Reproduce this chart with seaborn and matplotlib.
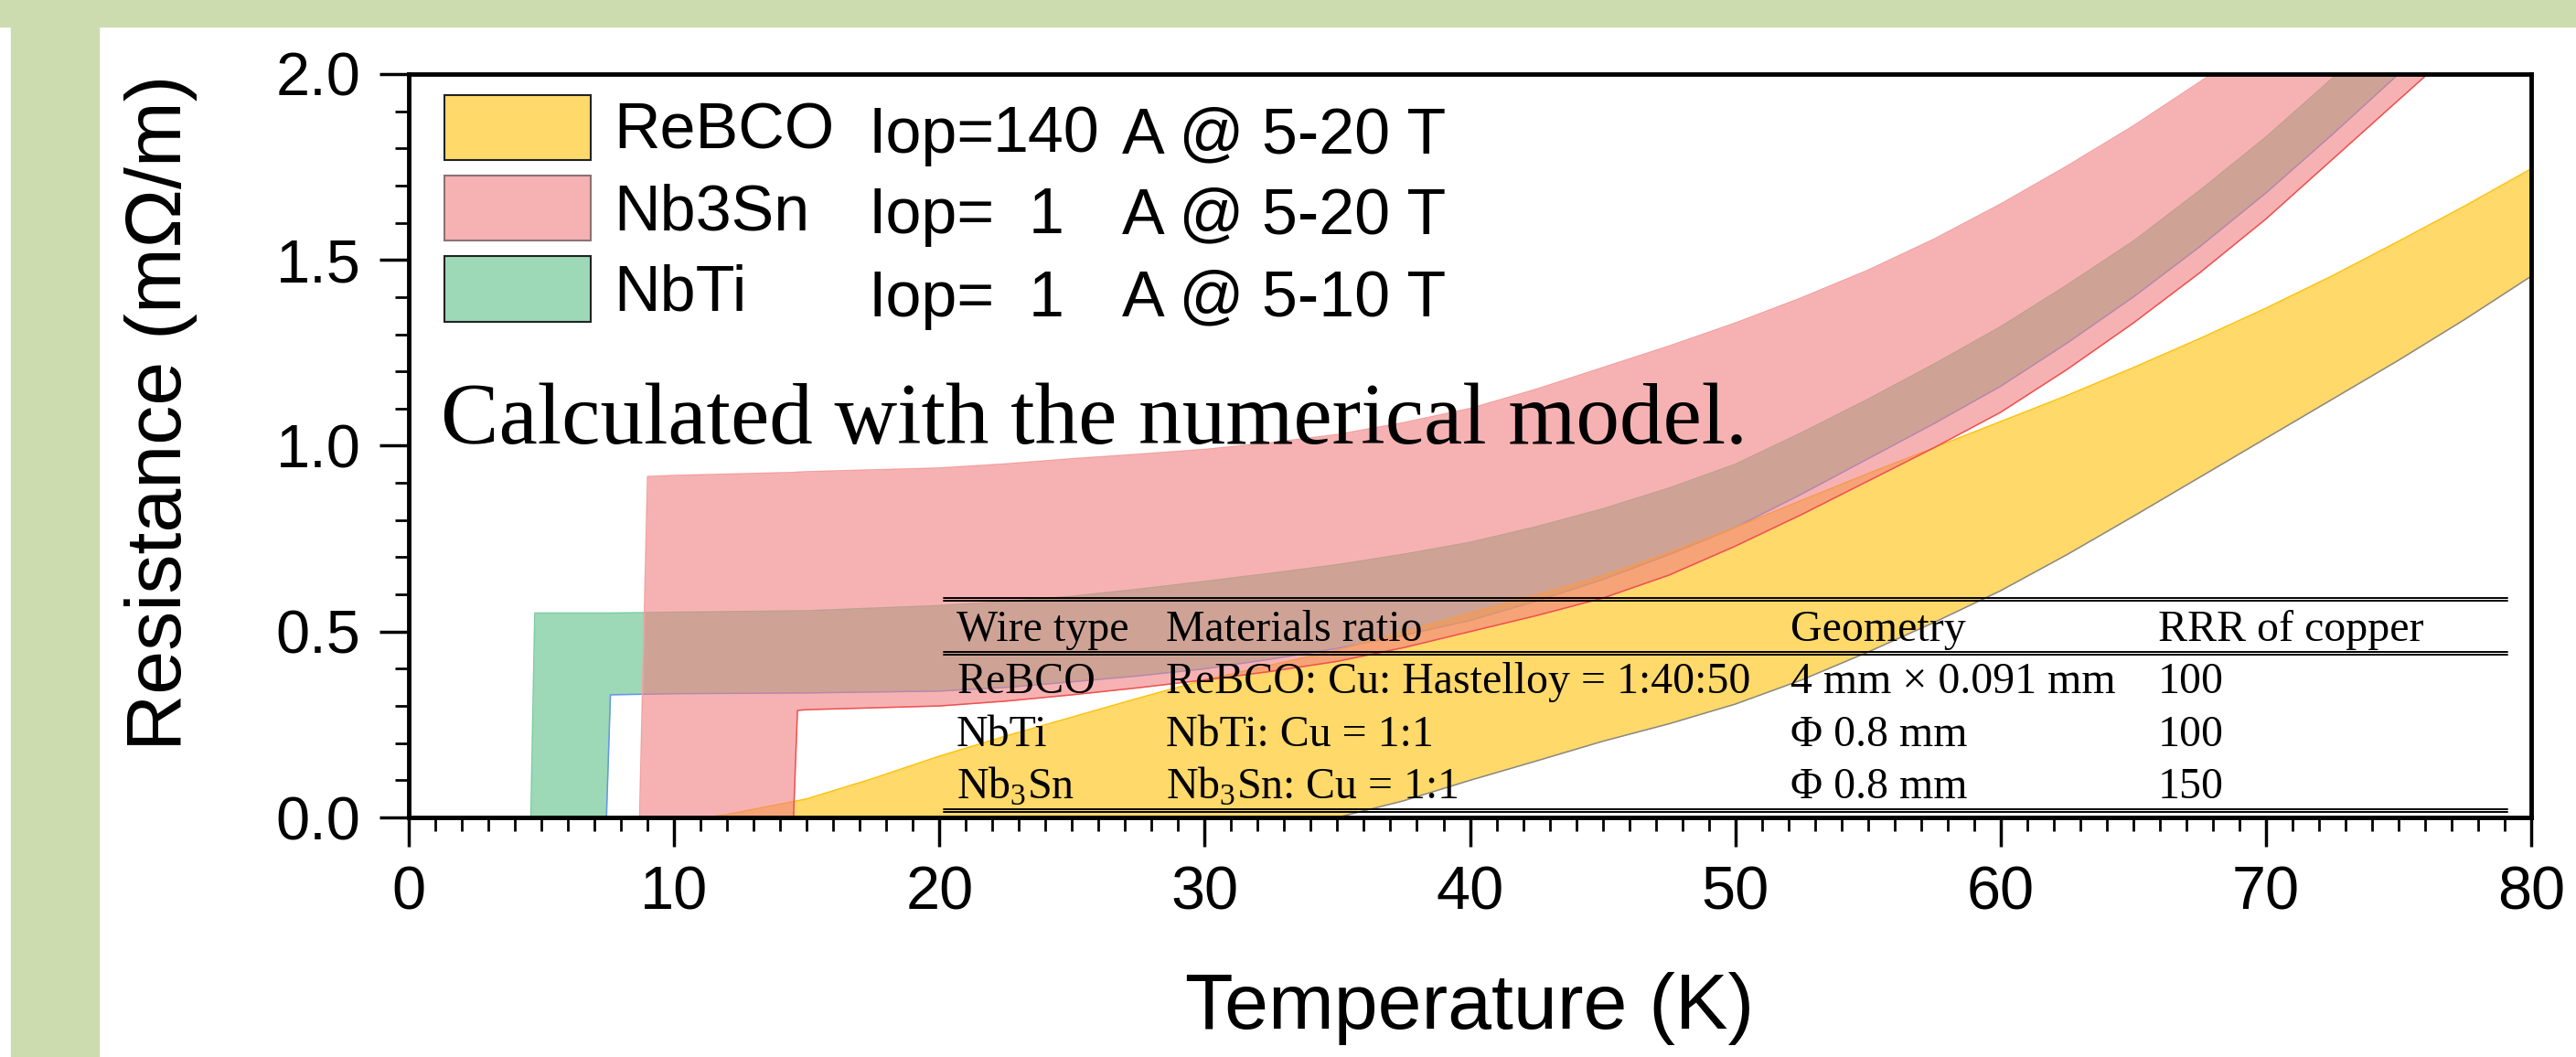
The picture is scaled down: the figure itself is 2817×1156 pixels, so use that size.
import matplotlib
matplotlib.use('Agg')
import matplotlib.pyplot as plt
import seaborn as sns
from matplotlib.patches import Patch, Rectangle
from matplotlib.ticker import MultipleLocator
from matplotlib.colors import to_rgba

# NbTi, Iop = 1 A @ 5-10 T (upper / lower edge of the band, mOhm/m)
nbti_t = [4.2, 4.6, 4.75, 7.45, 7.6, 10, 15, 20, 22.5, 25, 27.5, 30, 32.5, 35, 37.5, 40, 42.5,
          45, 47.5, 50, 52.5, 55, 57.5, 60, 62.5, 65, 67.5, 70, 72.5, 75, 77.5, 80]
nbti_hi = [0, 0, 0.55, 0.55, 0.55, 0.552, 0.556, 0.57, 0.581, 0.595, 0.614, 0.635, 0.657, 0.68,
           0.708, 0.74, 0.782, 0.83, 0.886, 0.95, 1.035, 1.125, 1.22, 1.32, 1.432, 1.55, 1.686,
           1.83, 1.988, 2.15, 2.32, 2.5]
nbti_lo = [0, 0, 0, 0, 0.33, 0.333, 0.335, 0.34, 0.35, 0.365, 0.381, 0.40, 0.426, 0.455, 0.49,
           0.53, 0.582, 0.64, 0.707, 0.78, 0.87, 0.965, 1.06, 1.16, 1.276, 1.40, 1.535, 1.68,
           1.837, 2.0, 2.17, 2.35]

# Nb3Sn, Iop = 1 A @ 5-20 T
nb3sn_t = [4.2, 8.7, 9.0, 10, 14.5, 14.65, 15, 17.5, 20, 22.5, 25, 27.5, 30, 32.5, 35, 37.5, 40,
           42.5, 45, 47.5, 50, 52.5, 55, 57.5, 60, 62.5, 65, 67.5, 70, 75, 80]
nb3sn_hi = [0, 0, 0.917, 0.92, 0.928, 0.929, 0.93, 0.935, 0.94, 0.951, 0.965, 0.977, 0.99, 1.008,
            1.03, 1.062, 1.10, 1.152, 1.21, 1.268, 1.33, 1.398, 1.472, 1.556, 1.65, 1.752, 1.86,
            1.978, 2.1, 2.35, 2.6]
nb3sn_lo = [0, 0, 0, 0, 0, 0.288, 0.29, 0.295, 0.30, 0.313, 0.33, 0.349, 0.37, 0.393, 0.42, 0.457,
            0.50, 0.543, 0.59, 0.652, 0.73, 0.815, 0.905, 0.995, 1.09, 1.205, 1.33, 1.465, 1.61,
            1.93, 2.25]

# ReBCO, Iop = 140 A @ 5-20 T
rebco_t = [4.2, 11.2, 12, 15, 17.5, 20, 22.5, 25, 27.5, 30, 32.5, 35, 37.5, 40, 42.5, 45, 47.5,
           50, 52.5, 55, 57.5, 60, 62.5, 65, 67.5, 70, 72.5, 75, 77.5, 80]
rebco_hi = [0, 0, 0.008, 0.05, 0.105, 0.165, 0.219, 0.27, 0.321, 0.37, 0.41, 0.45, 0.499, 0.55,
            0.598, 0.65, 0.713, 0.78, 0.853, 0.925, 0.995, 1.065, 1.135, 1.21, 1.288, 1.37, 1.457,
            1.55, 1.645, 1.745]
rebco_lo = [0, 0, 0, 0, 0, 0, 0, 0, 0, 0, 0, 0, 0.045, 0.10, 0.152, 0.205, 0.252, 0.305, 0.37,
            0.445, 0.525, 0.61, 0.707, 0.81, 0.915, 1.02, 1.125, 1.23, 1.34, 1.456]

names = ['ReBCO', 'Nb3Sn', 'NbTi']
iop_vals = ['140', '1', '1']
iop_fields = ['A @ 5-20 T', 'A @ 5-20 T', 'A @ 5-10 T']

tbl_header = ['Wire type', 'Materials ratio', 'Geometry', 'RRR of copper']
tbl_rows = [
    ['ReBCO', 'ReBCO: Cu: Hastelloy = 1:40:50', '4 mm \u00d7 0.091 mm', '100'],
    ['NbTi', 'NbTi: Cu = 1:1', '\u03a6 0.8 mm', '100'],
    [r'Nb$_\mathregular{3}$Sn', r'Nb$_\mathregular{3}$Sn: Cu = 1:1', '\u03a6 0.8 mm', '150'],
]

c_nbti, a_nbti = '#3CB371', 0.5
c_rebco, a_rebco = '#FFC107', 0.6
c_nb3sn, a_nb3sn = '#F08080', 0.6
frame_green = '#CDDCAF'
serif = ['Liberation Serif', 'DejaVu Serif']

sns.set_theme(style='ticks')
plt.rcParams['font.family'] = ['Liberation Sans', 'DejaVu Sans']
plt.rcParams.update({'text.color': 'black', 'axes.labelcolor': 'black',
                     'xtick.color': 'black', 'ytick.color': 'black'})

fig, ax = plt.subplots(figsize=(28.17, 11.56), dpi=100)
fig.subplots_adjust(left=0.1587, right=0.9826, top=0.930, bottom=0.2266)

# green frame on top and left
fig.patches.append(Rectangle((0, 1 - 29 / 1156), 1, 29 / 1156, transform=fig.transFigure,
                             color=frame_green, zorder=-5))
fig.patches.append(Rectangle((12 / 2817, 0), 96 / 2817, 1, transform=fig.transFigure,
                             color=frame_green, zorder=-5))


def band(t, hi, lo, color, alpha, hi_col, lo_col, z):
    ax.fill_between(t, lo, hi, color=color, alpha=alpha, lw=0, zorder=z)
    sns.lineplot(x=t, y=hi, color=hi_col, lw=1.1, ax=ax, estimator=None, zorder=z + 0.1)
    sns.lineplot(x=t, y=lo, color=lo_col, lw=1.1, ax=ax, estimator=None, zorder=z + 0.1)


band(nbti_t, nbti_hi, nbti_lo, c_nbti, a_nbti, '#7ccf9f', '#6495ED', 1.0)
band(rebco_t, rebco_hi, rebco_lo, c_rebco, a_rebco, '#FFC107', '#888888', 1.3)
band(nb3sn_t, nb3sn_hi, nb3sn_lo, c_nb3sn, a_nb3sn, '#F4A0A0', '#F05050', 1.6)

ax.set_xlim(0, 80)
ax.set_ylim(0, 2.0)
ax.xaxis.set_major_locator(MultipleLocator(10))
ax.xaxis.set_minor_locator(MultipleLocator(1))
ax.yaxis.set_major_locator(MultipleLocator(0.5))
ax.yaxis.set_minor_locator(MultipleLocator(0.1))
ax.yaxis.set_major_formatter(plt.FormatStrFormatter('%.1f'))
ax.tick_params(which='major', direction='out', length=23, width=2.5, labelsize=48, pad=15,
               color='black', labelcolor='black')
ax.tick_params(which='minor', direction='out', length=11, width=2, color='black')
ax.tick_params(which='both', top=False, right=False)
for s in ax.spines.values():
    s.set_linewidth(3.5)
    s.set_color('black')
    s.set_zorder(5)
ax.set_facecolor('white')

ax.set_xlabel('Temperature (K)', fontsize=62, color='black')
ax.xaxis.set_label_coords(0.5, -0.208)
ax.set_ylabel('Resistance (m\u03a9/m)', fontsize=62, color='black')
ax.yaxis.set_label_coords(-0.0995, 0.545)

# legend
handles = [
    Patch(facecolor=to_rgba(c_rebco, a_rebco), edgecolor='#222222', lw=1.5),
    Patch(facecolor=to_rgba(c_nb3sn, a_nb3sn), edgecolor='#8c7272', lw=1.5),
    Patch(facecolor=to_rgba(c_nbti, a_nbti), edgecolor='#222222', lw=1.5),
]
ax.legend(handles, names, loc='upper left', bbox_to_anchor=(0.0168, 0.972), frameon=False,
          fontsize=50.4, handlelength=2.28, handleheight=1.19, handletextpad=0.37,
          labelspacing=0.2, borderpad=0, borderaxespad=0, labelcolor='black')

iop_y = [0.8942, 0.7860, 0.6741]
for yy, v, f in zip(iop_y, iop_vals, iop_fields):
    ax.text(0.2163, yy, 'Iop=', transform=ax.transAxes, fontsize=50.4, va='baseline', ha='left')
    ax.text(0.3003, yy, v, transform=ax.transAxes, fontsize=50.4, va='baseline', ha='center')
    ax.text(0.3361, yy, f, transform=ax.transAxes, fontsize=50.4, va='baseline', ha='left')

ax.text(0.0151, 0.503, 'Calculated with the numerical model.', transform=ax.transAxes,
        family=serif, fontsize=68.5, va='baseline', color='black', zorder=6)

# parameter table
col_x = [0.2581, 0.3567, 0.651, 0.8242]
row_y = [0.2374, 0.1673, 0.0959, 0.0258]
for cx, txt in zip(col_x, tbl_header):
    ax.text(cx, row_y[0], txt, transform=ax.transAxes, family=serif,
            fontsize=34.5, va='baseline', color='black', zorder=6)
for ry, row in zip(row_y[1:], tbl_rows):
    for cx, txt in zip(col_x, row):
        ax.text(cx, ry, txt, transform=ax.transAxes, family=serif,
                fontsize=34.5, va='baseline', color='black', zorder=6)

for yy in [0.2952, 0.2915, 0.2226, 0.2189, 0.0106, 0.0069]:
    ax.plot([0.252, 0.9888], [yy, yy], transform=ax.transAxes, color='black', lw=1.4, zorder=6)

fig.savefig('out.png', dpi=100, facecolor='white')
